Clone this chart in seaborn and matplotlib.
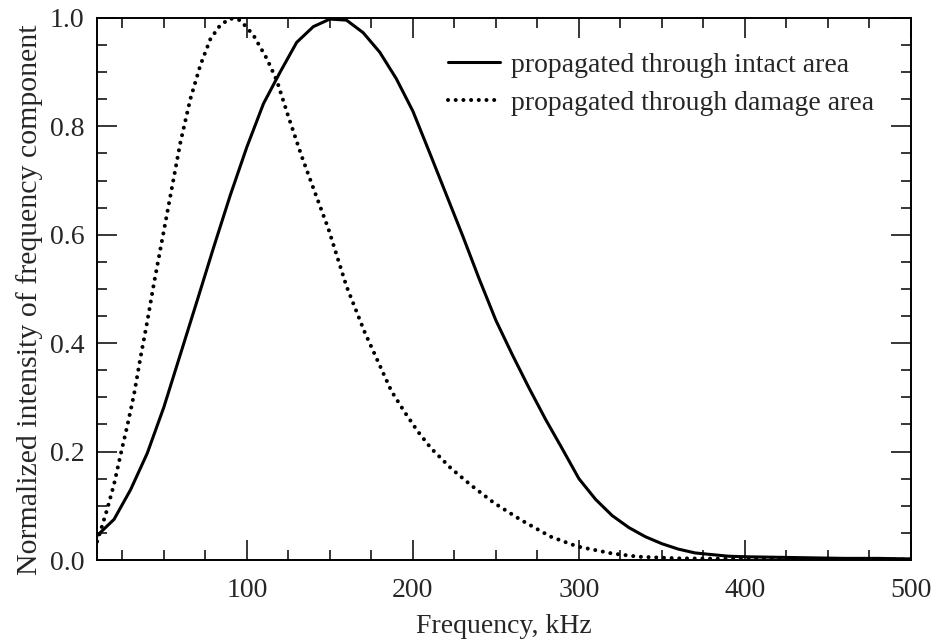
import numpy as np
import pandas as pd
import seaborn as sns
import matplotlib
matplotlib.use("Agg")
import matplotlib.pyplot as plt
from matplotlib.ticker import MultipleLocator, FormatStrFormatter

#values
intact_freq = [9.8, 20, 30, 40, 50, 60, 70, 80, 90, 100, 110, 120, 130, 140, 150,
               160, 170, 180, 190, 200, 210, 220, 230, 240, 250, 260, 270, 280, 290,
               300, 310, 320, 330, 340, 350, 360, 370, 380, 390, 400, 420, 440, 460,
               480, 500]
intact_val = [0.045, 0.075, 0.130, 0.197, 0.282, 0.380, 0.478, 0.577, 0.673, 0.762,
              0.842, 0.900, 0.955, 0.984, 0.998, 0.996, 0.973, 0.937, 0.888, 0.828,
              0.752, 0.675, 0.598, 0.518, 0.442, 0.378, 0.317, 0.259, 0.205, 0.150,
              0.112, 0.082, 0.060, 0.043, 0.030, 0.020, 0.013, 0.010, 0.007, 0.006,
              0.005, 0.004, 0.003, 0.003, 0.002]

damage_freq = [9.8, 12, 16, 20, 24, 28, 32, 36, 40, 44, 48, 54, 60, 66, 72, 78, 84,
               90, 96, 104, 112, 118, 125, 133, 141, 149, 160, 171, 179, 187, 195,
               203, 211, 223, 235, 249, 265, 283, 299, 320, 336, 360, 400, 450, 500]
damage_val = [0.034, 0.055, 0.095, 0.140, 0.195, 0.248, 0.305, 0.375, 0.440, 0.510,
              0.575, 0.673, 0.771, 0.851, 0.913, 0.961, 0.987, 0.999, 0.996, 0.968,
              0.925, 0.885, 0.818, 0.745, 0.678, 0.612, 0.505, 0.420, 0.366, 0.312,
              0.273, 0.237, 0.206, 0.169, 0.138, 0.105, 0.074, 0.043, 0.025, 0.012,
              0.006, 0.003, 0.002, 0.001, 0.001]

labels = ["propagated through intact area", "propagated through damage area"]

sns.set_theme(style="ticks")
plt.rcParams['font.family'] = ['Liberation Serif', 'DejaVu Serif']
plt.rcParams['axes.linewidth'] = 1.4

df_intact = pd.DataFrame({"freq": intact_freq, "val": intact_val})
df_damage = pd.DataFrame({"freq": damage_freq, "val": damage_val})

fig = plt.figure(figsize=(9.35, 6.4), dpi=100)
ax = fig.add_axes([0.1037, 0.125, 0.8706, 0.8469])

sns.lineplot(x="freq", y="val", data=df_intact, color="black", linewidth=2.2,
             label=labels[0], ax=ax)
sns.lineplot(x="freq", y="val", data=df_damage, color="black", linewidth=2.9,
             label=labels[1], ax=ax)

#round dots for the damage curve
dot_line = ax.lines[-1]
dot_line.set_linestyle((0, (0.01, 1.9)))
dot_line.set_dash_capstyle("round")

ax.set_xlim(9.7, 500)
ax.set_ylim(0, 1.0)
ax.xaxis.set_major_locator(MultipleLocator(100))
ax.xaxis.set_minor_locator(MultipleLocator(25))
ax.yaxis.set_major_locator(MultipleLocator(0.2))
ax.yaxis.set_minor_locator(MultipleLocator(0.05))
ax.yaxis.set_major_formatter(FormatStrFormatter('%.1f'))

ax.tick_params(which="both", direction="in", top=True, right=True,
               labelsize=20, width=1.1, color="black")
ax.tick_params(which="major", length=14.5)
ax.tick_params(which="minor", length=7.2)
ax.tick_params(axis="x", which="major", pad=13)
ax.tick_params(axis="y", which="major", pad=9)

ax.set_xlabel("Frequency, kHz", fontsize=20, labelpad=8)
ax.set_ylabel("Normalized intensity of frequency component", fontsize=21.5)
ax.yaxis.set_label_coords(-0.066, 0.48)

leg = ax.legend(loc="upper right", bbox_to_anchor=(0.979, 0.972), frameon=False,
                fontsize=20, handlelength=1.87, handletextpad=0.4,
                labelspacing=0.45, borderpad=0.2)

for sp in ax.spines.values():
    sp.set_color("black")

plt.savefig("out.png", dpi=100)
plt.close(fig)
